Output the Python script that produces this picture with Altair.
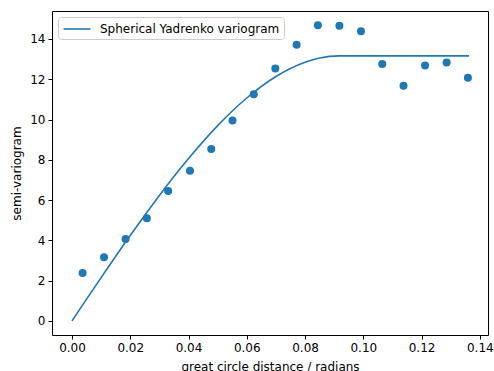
import altair as alt
import pandas as pd

# empirical semi-variogram points
dist = [0.00365, 0.0110, 0.0184, 0.0257, 0.0330, 0.0405, 0.0478, 0.0551, 0.0624,
        0.0698, 0.0771, 0.0844, 0.0918, 0.0992, 0.1065, 0.1138, 0.1212, 0.1286, 0.1359]
semivar = [2.38, 3.16, 4.07, 5.10, 6.45, 7.46, 8.54, 9.95, 11.26,
           12.53, 13.72, 14.68, 14.66, 14.38, 12.76, 11.68, 12.68, 12.83, 12.07]

# fitted model curve
model_x = [0.0, 0.005, 0.01, 0.02, 0.03, 0.04, 0.05, 0.06, 0.07, 0.08, 0.085, 0.0917, 0.1, 0.12, 0.1363]
model_y = [0.0, 1.08, 2.15, 4.24, 6.23, 8.06, 9.70, 11.07, 12.14, 12.85, 13.06, 13.16, 13.16, 13.16, 13.16]

series_name = "Spherical Yadrenko variogram"
blue = "#1f77b4"
font = "DejaVu Sans"

pts = pd.DataFrame({"d": dist, "g": semivar})
model = pd.DataFrame({"d": model_x, "g": model_y, "s": [series_name] * len(model_x)})

xscale = alt.Scale(domain=[-0.00686, 0.1428], nice=False, zero=False)
yscale = alt.Scale(domain=[-0.70, 15.39], nice=False, zero=False)

xaxis = alt.Axis(title="great circle distance / radians", values=[0, 0.02, 0.04, 0.06, 0.08, 0.10, 0.12, 0.14],
                 format=".2f", grid=False, tickSize=4, labelPadding=3, domain=False,
                 titlePadding=8)
yaxis = alt.Axis(title="semi-variogram", values=[0, 2, 4, 6, 8, 10, 12, 14], grid=False,
                 tickSize=4, labelPadding=3, domain=False, titlePadding=6)

line = alt.Chart(model).mark_line(strokeWidth=1.6, interpolate="monotone").encode(
    x=alt.X("d:Q", scale=xscale, axis=xaxis),
    y=alt.Y("g:Q", scale=yscale, axis=yaxis),
    color=alt.Color("s:N", scale=alt.Scale(range=[blue]),
                    legend=alt.Legend(title=None, orient="none", legendX=6, legendY=6,
                                      symbolType="M-2,0L2,0", symbolSize=182, symbolStrokeWidth=1.6,
                                      symbolOffset=7,
                                      labelFontSize=12, labelFont=font, labelColor="#000",
                                      labelLimit=400,
                                      fillColor="white", strokeColor="#cccccc", cornerRadius=3,
                                      padding=4, labelOffset=15)),
)

points = alt.Chart(pts).mark_circle(size=64, opacity=1, color=blue).encode(
    x="d:Q", y="g:Q"
)

chart = alt.layer(line, points).properties(
    width=436, height=324,
    background="white",
    autosize=alt.AutoSizeParams(type="none"),
    padding={"left": 52, "top": 11, "right": 6, "bottom": 36},
).configure_view(stroke="#000", strokeWidth=1).configure_axis(
    labelFont=font, titleFont=font, labelFontSize=12, titleFontSize=12,
    labelColor="#000", titleColor="#000", tickColor="#000", titleFontWeight="normal",
)

chart.save("out.html", embed_options={"renderer": "svg", "actions": False})
